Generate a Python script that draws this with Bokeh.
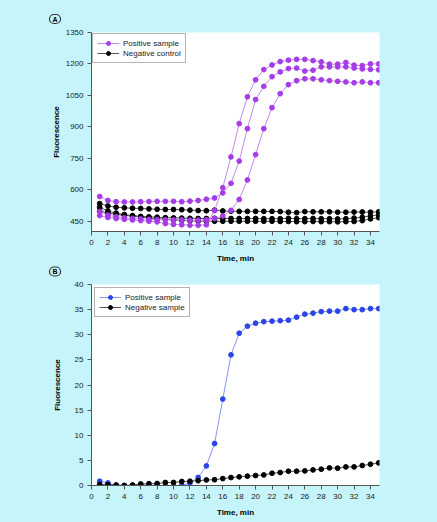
from bokeh.plotting import figure
from bokeh.models import Legend, LegendItem, Range1d, FixedTicker, Title
from bokeh.layouts import column
from bokeh.embed import file_html
from bokeh.resources import INLINE

# ---------------- data ----------------
time = list(range(1, 36))

# Panel A (fluorescence, three positive samples and three negative controls)
pos_a1 = [476, 467, 462, 458, 455, 452, 449, 446, 438, 434, 432, 430, 430, 432, 500,
          609, 756, 915, 1043, 1124, 1173, 1195, 1211, 1218, 1222, 1222, 1216, 1210,
          1199, 1199, 1207, 1194, 1192, 1200, 1200]
pos_a2 = [567, 548, 542, 541, 541, 542, 543, 544, 544, 544, 542, 545, 548, 554, 560,
          584, 630, 736, 891, 1030, 1093, 1139, 1162, 1178, 1180, 1166, 1170, 1186,
          1186, 1186, 1186, 1180, 1176, 1174, 1172]
pos_a3 = [495, 478, 470, 465, 462, 460, 458, 457, 456, 455, 455, 454, 454, 456, 462,
          474, 501, 553, 646, 767, 891, 991, 1058, 1101, 1120, 1129, 1129, 1124,
          1120, 1117, 1114, 1110, 1114, 1110, 1110]
neg_a1 = [533, 522, 516, 513, 511, 510, 508, 506, 505, 505, 504, 502, 500, 499, 502,
          498, 497, 496, 496, 496, 496, 496, 495, 492, 490, 495, 494, 494, 494, 492,
          492, 493, 493, 492, 494]
neg_a2 = [515, 498, 488, 481, 476, 472, 470, 468, 466, 465, 464, 463, 462, 462, 463,
          462, 462, 462, 462, 462, 461, 461, 461, 463, 461, 461, 462, 461, 461, 460,
          461, 464, 468, 474, 480]
neg_a3 = [497, 488, 482, 477, 473, 469, 465, 461, 458, 455, 453, 451, 450, 450, 449,
          449, 449, 449, 449, 449, 449, 449, 448, 448, 447, 447, 448, 447, 447, 446,
          447, 448, 452, 460, 466]

# Panel B
pos_b = [0.85, 0.5, 0.0, 0.0, 0.0, 0.1, 0.0, 0.1, -0.1, -0.2, 0.05, 0.5, 1.6, 3.9,
         8.35, 17.2, 26.0, 30.3, 31.7, 32.3, 32.6, 32.7, 32.8, 32.9, 33.5, 34.1, 34.3,
         34.6, 34.7, 34.7, 35.2, 35.0, 35.0, 35.2, 35.2]
neg_b = [0.2, 0.15, 0.1, 0.0, 0.1, 0.3, 0.35, 0.4, 0.6, 0.6, 0.8, 0.85, 0.95, 1.1,
         1.15, 1.38, 1.58, 1.72, 1.85, 1.98, 2.1, 2.44, 2.58, 2.84, 2.84, 2.9, 3.1,
         3.24, 3.5, 3.44, 3.7, 3.7, 3.97, 4.23, 4.5]

x_ticks = list(range(0, 36, 2))
y_ticks_a = [450, 600, 750, 900, 1050, 1200, 1350]
y_ticks_b = [0, 5, 10, 15, 20, 25, 30, 35, 40]

legend_a = ["Positive sample", "Negative control"]
legend_b = ["Positive sample", "Negative sample"]
panels = ["A", "B"]

# ---------------- style ----------------
BG = "#C5F5FA"
FONT = "Liberation Sans"
PURPLE = "#A63CE6"
PURPLE_LINE = "#C48AF0"
BLUE = "#2A45E6"
BLUE_LINE = "#8595EC"
BLACK = "#000000"
BLACK_LINE = "#555555"
AXIS = "#555555"
TEXT = "#222222"


def make_fig(height, b_top, b_bottom, y0, y1, yticks, title_standoff_y, panel, panel_standoff):
    p = figure(width=437, height=height, output_backend="svg", toolbar_location=None,
               x_range=Range1d(0, 35.1), y_range=Range1d(y0, y1),
               min_border_left=91, min_border_right=58,
               min_border_top=b_top, min_border_bottom=b_bottom)
    p.background_fill_color = "white"
    p.border_fill_color = BG
    p.outline_line_color = None
    p.grid.visible = False
    for ax in (p.xaxis[0], p.yaxis[0]):
        ax.axis_line_color = AXIS
        ax.major_tick_line_color = AXIS
        ax.minor_tick_line_color = None
        ax.major_tick_in = 0
        ax.major_tick_out = 4
        ax.major_label_text_font = FONT
        ax.major_label_text_font_size = "8px"
        ax.major_label_text_color = TEXT
        ax.axis_label_text_font = FONT
        ax.axis_label_text_font_size = "8px"
        ax.axis_label_text_font_style = "bold"
        ax.axis_label_text_color = BLACK
    p.xaxis.ticker = FixedTicker(ticks=x_ticks)
    p.yaxis.ticker = FixedTicker(ticks=yticks)
    p.xaxis.axis_label = "Time, min"
    p.yaxis.axis_label = "Fluorescence"
    p.xaxis.major_label_standoff = 4
    p.yaxis.major_label_standoff = 4
    p.xaxis.axis_label_standoff = 6
    p.yaxis.axis_label_standoff = title_standoff_y
    t = Title(text=panel, align="left", offset=-42, standoff=panel_standoff,
              text_font=FONT, text_font_size="7px", text_font_style="bold",
              text_color=BLACK, border_line_color="#333333", border_line_width=1.2,
              border_radius=5, padding=(3, 3, 1, 1))
    p.title = t
    return p


def series(p, ys, mcolor, lcolor):
    ln = p.line(time, ys, line_color=lcolor, line_width=1)
    sc = p.scatter(time, ys, size=4.8, fill_color=mcolor, line_color=mcolor)
    return [ln, sc]


def add_legend(p, items, margin):
    leg = Legend(items=items, location="top_left")
    leg.margin = margin
    leg.padding = 4
    leg.spacing = 0
    leg.glyph_width = 22
    leg.glyph_height = 10
    leg.label_height = 10
    leg.label_standoff = 4
    leg.label_text_font = FONT
    leg.label_text_font_size = "8px"
    leg.label_text_color = TEXT
    leg.border_line_color = "#666666"
    leg.border_line_width = 1
    leg.background_fill_color = "white"
    leg.background_fill_alpha = 1
    p.add_layout(leg)


# ---------------- panel A ----------------
pa = make_fig(265, 32, 32, 400, 1350, y_ticks_a, 2, panels[0], 18)
r_neg = None
for ys in (neg_a1, neg_a2, neg_a3):
    r = series(pa, ys, BLACK, BLACK_LINE)
    r_neg = r_neg or r
r_pos = None
for ys in (pos_a1, pos_a2, pos_a3):
    r = series(pa, ys, PURPLE, PURPLE_LINE)
    r_pos = r_pos or r
add_legend(pa, [LegendItem(label=legend_a[0], renderers=r_pos),
                LegendItem(label=legend_a[1], renderers=r_neg)], 1)

# ---------------- panel B ----------------
# this figure is pulled up by 10px (its top border is transparent) so that its
# panel letter can sit just under the time axis of panel A
pb = make_fig(267, 29, 37, 0, 40, y_ticks_b, 10, panels[1], 17)
pb.border_fill_alpha = 0
pb.styles = {"margin-top": "-10px"}
rb_pos = series(pb, pos_b, BLUE, BLUE_LINE)
rb_neg = series(pb, neg_b, BLACK, BLACK_LINE)
add_legend(pb, [LegendItem(label=legend_b[0], renderers=rb_pos),
                LegendItem(label=legend_b[1], renderers=rb_neg)], 3)

layout = column(pa, pb, spacing=0)
layout.background = BG

html = file_html(layout, INLINE)
html = html.replace("</head>", "<style>html,body{background:%s;}</style></head>" % BG, 1)
open("out.html", "w").write(html)
